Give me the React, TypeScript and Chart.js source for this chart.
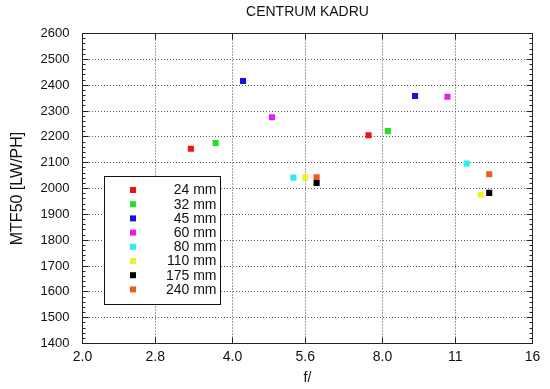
import React, { useEffect, useRef } from 'react';
import { Chart, registerables } from 'chart.js';

Chart.register(...registerables);

const LENSES = ['24 mm', '32 mm', '45 mm', '60 mm', '80 mm', '110 mm', '175 mm', '240 mm'];
const COLORS = ['#f01414', '#22e022', '#1414dc', '#e61ee6', '#28f0f0', '#f0f028', '#000000', '#f05a1e'];
const F_OPEN = [3.3, 3.7, 4.2, 4.8, 5.3, 5.6, 5.9, 5.9];
const MTF_OPEN = [2154, 2176, 2416, 2276, 2042, 2043, 2021, 2043];
const F_STOPPED = [7.5, 8.2, 9.3, 10.8, 11.8, 12.6, 13.1, 13.1];
const MTF_STOPPED = [2206, 2222, 2358, 2355, 2097, 1976, 1983, 2055];
const X_TICKS = [2, 2.8, 4, 5.6, 8, 11.2, 16];
const X_TICK_LABELS = ['2.0', '2.8', '4.0', '5.6', '8.0', '11', '16'];
const Y_MIN = 1400;
const Y_MAX = 2600;
const Y_STEP = 100;
const Y_MINOR = 20;

const FONT = '"Liberation Sans", Arial, Helvetica, sans-serif';

const frameAndLegend = {
  id: 'frameAndLegend',
  afterDraw(chart: any) {
    const { ctx, chartArea: a, scales } = chart;
    const xs = scales.x;
    const ys = scales.y;
    const al = (v: number) => Math.floor(v) + 0.5;
    const L = al(a.left), R = al(a.right), T = al(a.top), B = al(a.bottom);
    ctx.save();
    ctx.strokeStyle = '#222';
    ctx.lineWidth = 1;
    ctx.setLineDash([]);
    ctx.strokeRect(L, T, R - L, B - T);
    ctx.beginPath();
    for (let v = Y_MIN; v <= Y_MAX; v += Y_MINOR) {
      const py = al(ys.getPixelForValue(v));
      const len = (v - Y_MIN) % Y_STEP === 0 ? 6 : 3;
      ctx.moveTo(L, py); ctx.lineTo(L + len, py);
      ctx.moveTo(R, py); ctx.lineTo(R - len, py);
    }
    for (const v of X_TICKS) {
      const px = al(xs.getPixelForValue(v));
      ctx.moveTo(px, B); ctx.lineTo(px, B - 6);
      ctx.moveTo(px, T); ctx.lineTo(px, T + 6);
    }
    ctx.stroke();

    // legend box
    const bx = 104.5, by = 176.5, bw = 116, bh = 128;
    ctx.fillStyle = '#ffffff';
    ctx.fillRect(bx, by, bw, bh);
    ctx.strokeStyle = '#111';
    ctx.strokeRect(bx, by, bw, bh);
    ctx.font = '14px ' + FONT;
    ctx.textAlign = 'right';
    ctx.textBaseline = 'middle';
    chart.data.datasets.forEach((ds: any, i: number) => {
      const yy = 190 + i * 14.2;
      ctx.fillStyle = ds.backgroundColor;
      ctx.fillRect(130, yy - 3, 6, 6);
      ctx.fillStyle = '#111';
      ctx.fillText(ds.label, 216.5, yy + 0.5);
    });
    ctx.restore();
  },
};

export default function App() {
  const ref = useRef<HTMLCanvasElement>(null);
  useEffect(() => {
    if (!ref.current) return;
    Chart.defaults.font.family = FONT;
    const datasets = LENSES.map((label, i) => ({
      label,
      data: [
        { x: F_OPEN[i], y: MTF_OPEN[i] },
        { x: F_STOPPED[i], y: MTF_STOPPED[i] },
      ],
      backgroundColor: COLORS[i],
      borderColor: COLORS[i],
      borderWidth: 0,
      pointStyle: 'rect',
      pointRadius: 4.3,
      showLine: false,
    }));
    const chart = new Chart(ref.current, {
      type: 'scatter',
      data: { datasets },
      options: {
        animation: false,
        responsive: false,
        events: [],
        layout: { padding: { left: 0, right: 17.5, top: 0, bottom: 0 } },
        plugins: {
          legend: { display: false },
          tooltip: { enabled: false },
          title: {
            display: true,
            text: 'CENTRUM KADRU',
            fullSize: false,
            color: '#111',
            font: { size: 14, weight: 'normal', family: FONT },
            padding: { top: 4, bottom: 12.7 },
          },
        },
        scales: {
          x: {
            type: 'logarithmic',
            min: 2,
            max: 16,
            afterBuildTicks: (s: any) => {
              s.ticks = X_TICKS.map((v) => ({ value: v }));
            },
            afterFit: (s: any) => {
              s.height = 45.5;
            },
            ticks: {
              autoSkip: false,
              maxRotation: 0,
              padding: 5,
              color: '#111',
              font: { size: 14, family: FONT },
              callback: (_v: any, i: number) => X_TICK_LABELS[i],
            },
            grid: { color: 'rgba(30,30,30,0.8)', drawTicks: false, lineWidth: 1 },
            border: { display: false, dash: [1, 2] },
            title: {
              display: true,
              text: 'f/',
              color: '#111',
              font: { size: 14, family: FONT },
              padding: { top: 0, bottom: 2 },
            },
          },
          y: {
            min: Y_MIN,
            max: Y_MAX,
            afterFit: (s: any) => {
              s.width = 82.5;
            },
            ticks: {
              stepSize: Y_STEP,
              padding: 13,
              color: '#111',
              font: { size: 13, family: FONT },
              callback: (v: any) => String(v),
            },
            grid: { color: 'rgba(70,45,45,0.8)', drawTicks: false, lineWidth: 1 },
            border: { display: false, dash: [1, 2] },
            title: {
              display: true,
              text: 'MTF50 [LW/PH]',
              color: '#111',
              font: { size: 16, family: FONT },
              padding: { top: 8, bottom: 0 },
            },
          },
        },
      },
      plugins: [frameAndLegend],
    } as any);
    return () => chart.destroy();
  }, []);
  return (
    <div style={{ position: 'absolute', left: 0, top: 0, width: 550, height: 389, background: '#fff' }}>
      <canvas ref={ref} width={550} height={389} />
    </div>
  );
}
